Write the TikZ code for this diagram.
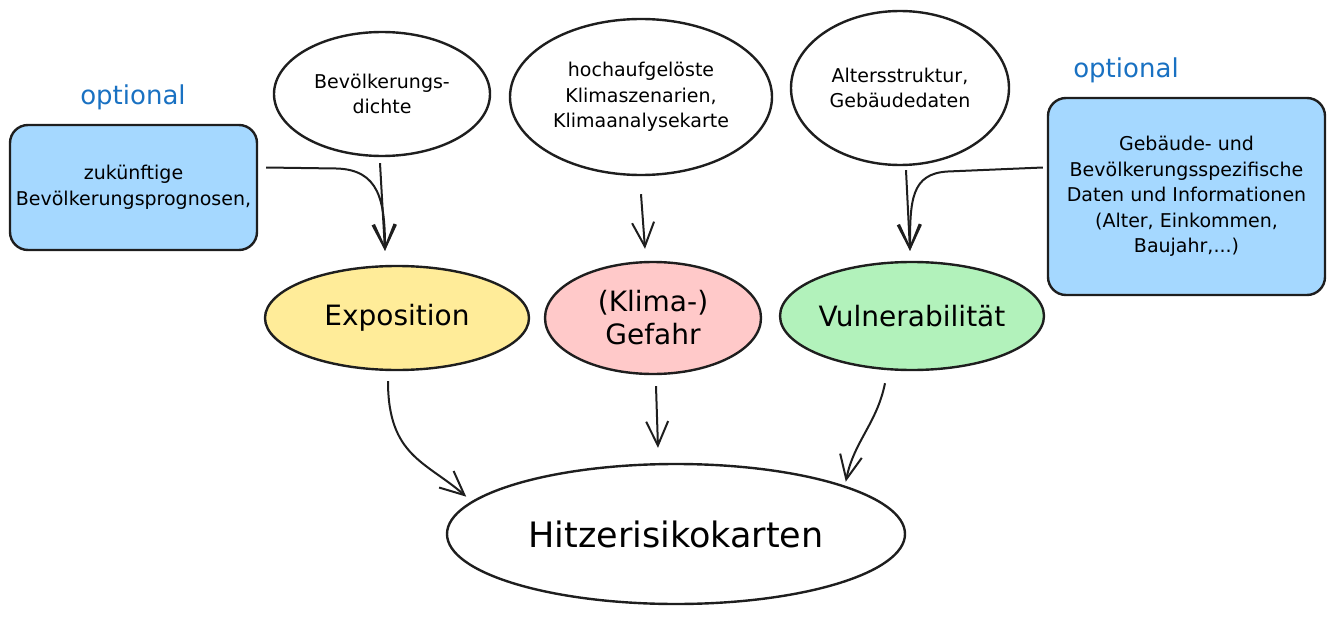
\documentclass[tikz,border=0pt]{standalone}
\usepackage{fontspec}
\setmainfont{DejaVu Sans}
\usetikzlibrary{shapes.geometric,arrows.meta,positioning}
\definecolor{boxblue}{HTML}{A5D8FF}
\definecolor{expyellow}{HTML}{FFEC99}
\definecolor{hazpink}{HTML}{FFC9C9}
\definecolor{vulgreen}{HTML}{B2F2BB}
\definecolor{optblue}{HTML}{1971C2}
\definecolor{ink}{HTML}{1E1E1E}

\begin{document}
\begin{tikzpicture}[x=1pt, y=-1pt,
  blob/.style={ellipse, draw=ink, line width=2.4pt, inner sep=0pt, align=center},
  src/.style={blob, fill=white, font=\fontsize{19}{25.5}\selectfont},
  pillar/.style={blob, font=\fontsize{28}{33}\selectfont},
  extbox/.style={rectangle, rounded corners=18pt, draw=ink, line width=2.4pt, fill=boxblue, align=center, font=\fontsize{19}{25.5}\selectfont},
  opt/.style={text=optblue, font=\fontsize{26}{30}\selectfont},
  flow/.style={draw=ink, line width=2pt, -{Straight Barb[length=24pt,width=22pt]}}]
\useasboundingbox (0,0) rectangle (1334,618);
% optional inputs
\node[opt] (optL) at (133,97) {optional};
\node[extbox, minimum width=247pt, minimum height=125pt] (prog) at (133.5,187.5) {zukünftige\\Bevölkerungsprognosen,};
\node[opt] (optR) at (1126,70) {optional};
\node[extbox, minimum width=277pt, minimum height=197pt] (info) at (1186.5,196.5) {Gebäude- und\\Bevölkerungsspezifische\\Daten und Informationen\\(Alter, Einkommen,\\Baujahr,...)};
% data sources
\node[src, minimum width=216pt, minimum height=124pt] (dens) at (382,94) {Bevölkerungs-\\dichte};
\node[src, minimum width=262pt, minimum height=156pt] (clim) at (641,97) {hochaufgelöste\\Klimaszenarien,\\Klimaanalysekarte};
\node[src, minimum width=218pt, minimum height=154pt] (age) at (900,88) {Altersstruktur,\\Gebäudedaten};
% risk components
\node[pillar, fill=expyellow, minimum width=264pt, minimum height=104pt] (expo) at (397,318) {Exposition};
\node[pillar, fill=hazpink, minimum width=216pt, minimum height=112pt] (haz) at (653,318) {(Klima-)\\Gefahr};
\node[pillar, fill=vulgreen, minimum width=260pt, minimum height=108pt] (vul) at (912,316) {Vulnerabilität};
\node[blob, fill=white, minimum width=458pt, minimum height=140pt, font=\fontsize{35}{38}\selectfont] (map) at (676,534) {Hitzerisikokarten};
% arrow ends
\coordinate (expoIn) at ([xshift=-12pt,yshift=14pt]expo.north);
\coordinate (hazIn) at ([xshift=-8pt,yshift=12pt]haz.north);
\coordinate (vulIn) at ([xshift=-2pt,yshift=10pt]vul.north);
\coordinate (progOut) at ([xshift=8pt,yshift=20pt]prog.east);
\coordinate (infoOut) at ([xshift=-4pt,yshift=29pt]info.west);
\draw[flow] ([xshift=-2pt,yshift=-6pt]dens.south) -- (expoIn);
\draw[flow] (progOut) -- ([xshift=70pt,yshift=-1pt]progOut) .. controls ([xshift=113pt,yshift=-2pt]progOut) and ([yshift=50pt]expoIn) .. (expoIn);
\draw[flow] ([yshift=-18pt]clim.south) -- (hazIn);
\draw[flow] ([xshift=6pt,yshift=-4pt]age.south) -- (vulIn);
\draw[flow] (infoOut) -- ([xshift=-95pt,yshift=-4pt]infoOut) .. controls ([xshift=-132pt,yshift=-6pt]infoOut) and ([yshift=50pt]vulIn) .. (vulIn);
\draw[flow] ([xshift=-9pt,yshift=-10pt]expo.south) .. controls +(0,75) and +(-40,-35) .. ([xshift=-47pt,yshift=-13pt]map.north west);
\draw[flow] ([xshift=3pt,yshift=-11pt]haz.south) -- ([xshift=-18pt,yshift=15pt]map.north);
\draw[flow] ([xshift=-27pt,yshift=-12pt]vul.south) .. controls +(-8,40) and +(8,-40) .. ([xshift=7pt,yshift=2pt]map.north east);
\end{tikzpicture}
\end{document}
